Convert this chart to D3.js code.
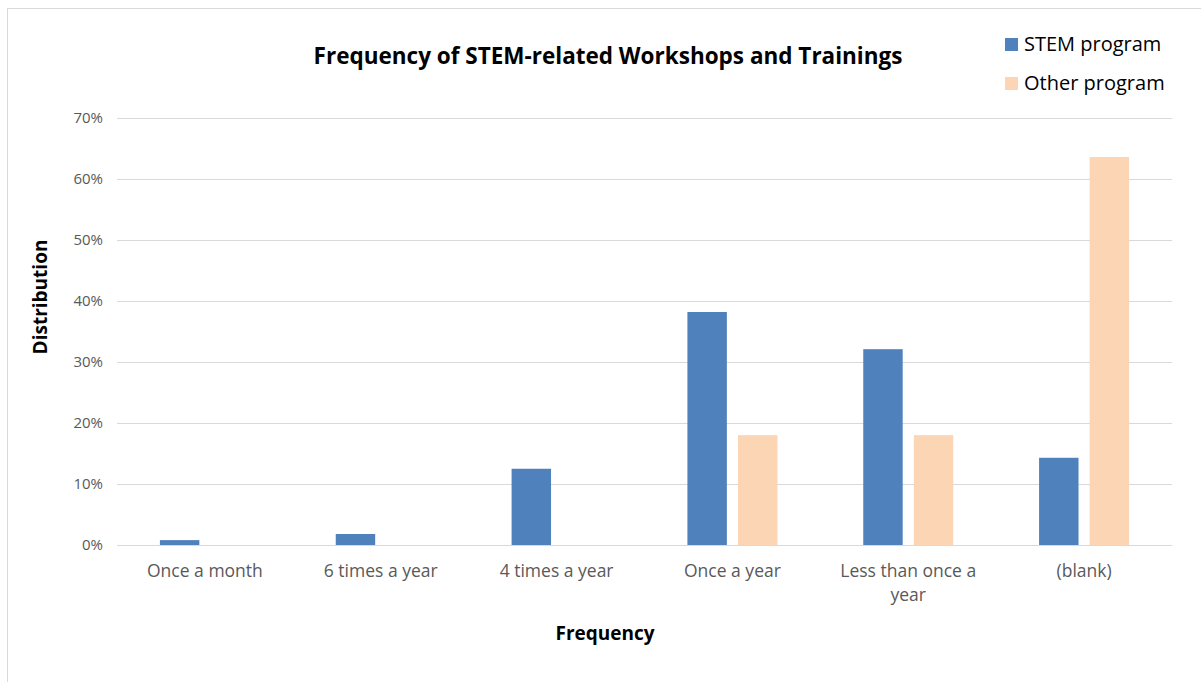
<!DOCTYPE html>
<html>
<head>
<meta charset="utf-8">
<script src="https://cdn.jsdelivr.net/npm/d3@7"></script>
<style>
  body { margin: 0; background: #fff; }
  text { font-family: "Open Sans", sans-serif; }
</style>
</head>
<body>
<div class="chart"></div>
<script>
var categories = ["Once a month", "6 times a year", "4 times a year", "Once a year", "Less than once a year", "(blank)"];
var stemValues = [0.008, 0.018, 0.125, 0.382, 0.321, 0.143];
var otherValues = [0, 0, 0, 0.18, 0.18, 0.636];
var seriesNames = ["STEM program", "Other program"];
var seriesColors = ["#4f81bd", "#fcd5b4"];
var yTicks = [0, 0.1, 0.2, 0.3, 0.4, 0.5, 0.6, 0.7];

var svgWidth = 1201;
var svgHeight = 682;

var margin = { top: 118, right: 29, bottom: 137, left: 117 };
var width = svgWidth - margin.left - margin.right;
var height = svgHeight - margin.top - margin.bottom;

var svg = d3.select(".chart")
    .append("svg")
    .attr("width", svgWidth)
    .attr("height", svgHeight);

// outer border of the chart area
svg.append("rect")
    .attr("x", 7.5)
    .attr("y", 8.5)
    .attr("width", svgWidth)
    .attr("height", svgHeight)
    .attr("fill", "none")
    .attr("stroke", "#d9d9d9");

var chartGroup = svg.append("g")
    .attr("transform", `translate(${margin.left}, ${margin.top})`);

var x0 = d3.scaleBand()
    .domain(categories)
    .range([0, width]);

var x1 = d3.scaleBand()
    .domain(seriesNames)
    .range([0, 90])
    .paddingInner(0.22);

var y = d3.scaleLinear()
    .domain([0, 0.7])
    .range([height, 0]);

// gridlines
chartGroup.append("g")
    .selectAll("line")
    .data(yTicks)
    .enter()
    .append("line")
    .attr("x1", 0)
    .attr("x2", width)
    .attr("y1", d => Math.round(y(d)) + 0.5)
    .attr("y2", d => Math.round(y(d)) + 0.5)
    .attr("stroke", "#d9d9d9")
    .attr("stroke-width", 1);

// y tick labels
var leftAxis = d3.axisLeft(y)
    .tickValues(yTicks)
    .tickFormat(d3.format(".0%"))
    .tickSize(0)
    .tickPadding(14);

var yAxis = chartGroup.append("g").call(leftAxis);
yAxis.select(".domain").remove();
yAxis.selectAll("text")
    .attr("fill", "#595959")
    .style("font-size", "15px")
    .style("font-family", "'Open Sans', sans-serif");

// bars
var seriesData = [stemValues, otherValues];
var groups = chartGroup.selectAll(".group")
    .data(categories)
    .enter()
    .append("g")
    .attr("class", "group")
    .attr("transform", d => `translate(${x0(d) + (x0.bandwidth() - 90) / 2}, 0)`);

groups.selectAll("rect")
    .data((d, i) => seriesNames.map((s, j) => ({ series: s, value: seriesData[j][i], color: seriesColors[j] })))
    .enter()
    .append("rect")
    .attr("x", d => x1(d.series))
    .attr("width", x1.bandwidth())
    .attr("y", d => y(d.value))
    .attr("height", d => height - y(d.value))
    .attr("fill", d => d.color);

// x tick labels (wrapped)
var bottomAxis = d3.axisBottom(x0).tickSize(0).tickPadding(20);
var xAxis = chartGroup.append("g")
    .attr("transform", `translate(0, ${height})`)
    .call(bottomAxis);
xAxis.select(".domain").remove();
xAxis.selectAll("text")
    .attr("fill", "#595959")
    .style("font-size", "17.5px")
    .style("font-family", "'Open Sans', sans-serif")
    .each(function (d) {
        var t = d3.select(this);
        if (d === "Less than once a year") {
            t.text(null);
            t.append("tspan").attr("x", 0).attr("dy", "0.71em").text("Less than once a");
            t.append("tspan").attr("x", 0).attr("dy", "1.37em").text("year");
            t.attr("dy", null);
        }
    });

// title
svg.append("text")
    .attr("x", 608)
    .attr("y", 64)
    .attr("text-anchor", "middle")
    .style("font-size", "22.5px")
    .style("font-weight", "bold")
    .attr("fill", "#000")
    .text("Frequency of STEM-related Workshops and Trainings");

// axis titles
svg.append("text")
    .attr("x", 605)
    .attr("y", 640)
    .attr("text-anchor", "middle")
    .style("font-size", "19px")
    .style("font-weight", "bold")
    .attr("fill", "#000")
    .text("Frequency");

svg.append("text")
    .attr("transform", "translate(47, 297) rotate(-90)")
    .attr("text-anchor", "middle")
    .style("font-size", "19px")
    .style("font-weight", "bold")
    .attr("fill", "#000")
    .text("Distribution");

// legend
var legend = svg.append("g")
    .selectAll("g")
    .data(seriesNames)
    .enter()
    .append("g")
    .attr("transform", (d, i) => `translate(1005, ${38 + i * 39})`);

legend.append("rect")
    .attr("width", 13)
    .attr("height", 13)
    .attr("fill", (d, i) => seriesColors[i]);

legend.append("text")
    .attr("x", 19)
    .attr("y", 13)
    .style("font-size", "20px")
    .attr("fill", "#000")
    .text(d => d);
</script>
</body>
</html>
